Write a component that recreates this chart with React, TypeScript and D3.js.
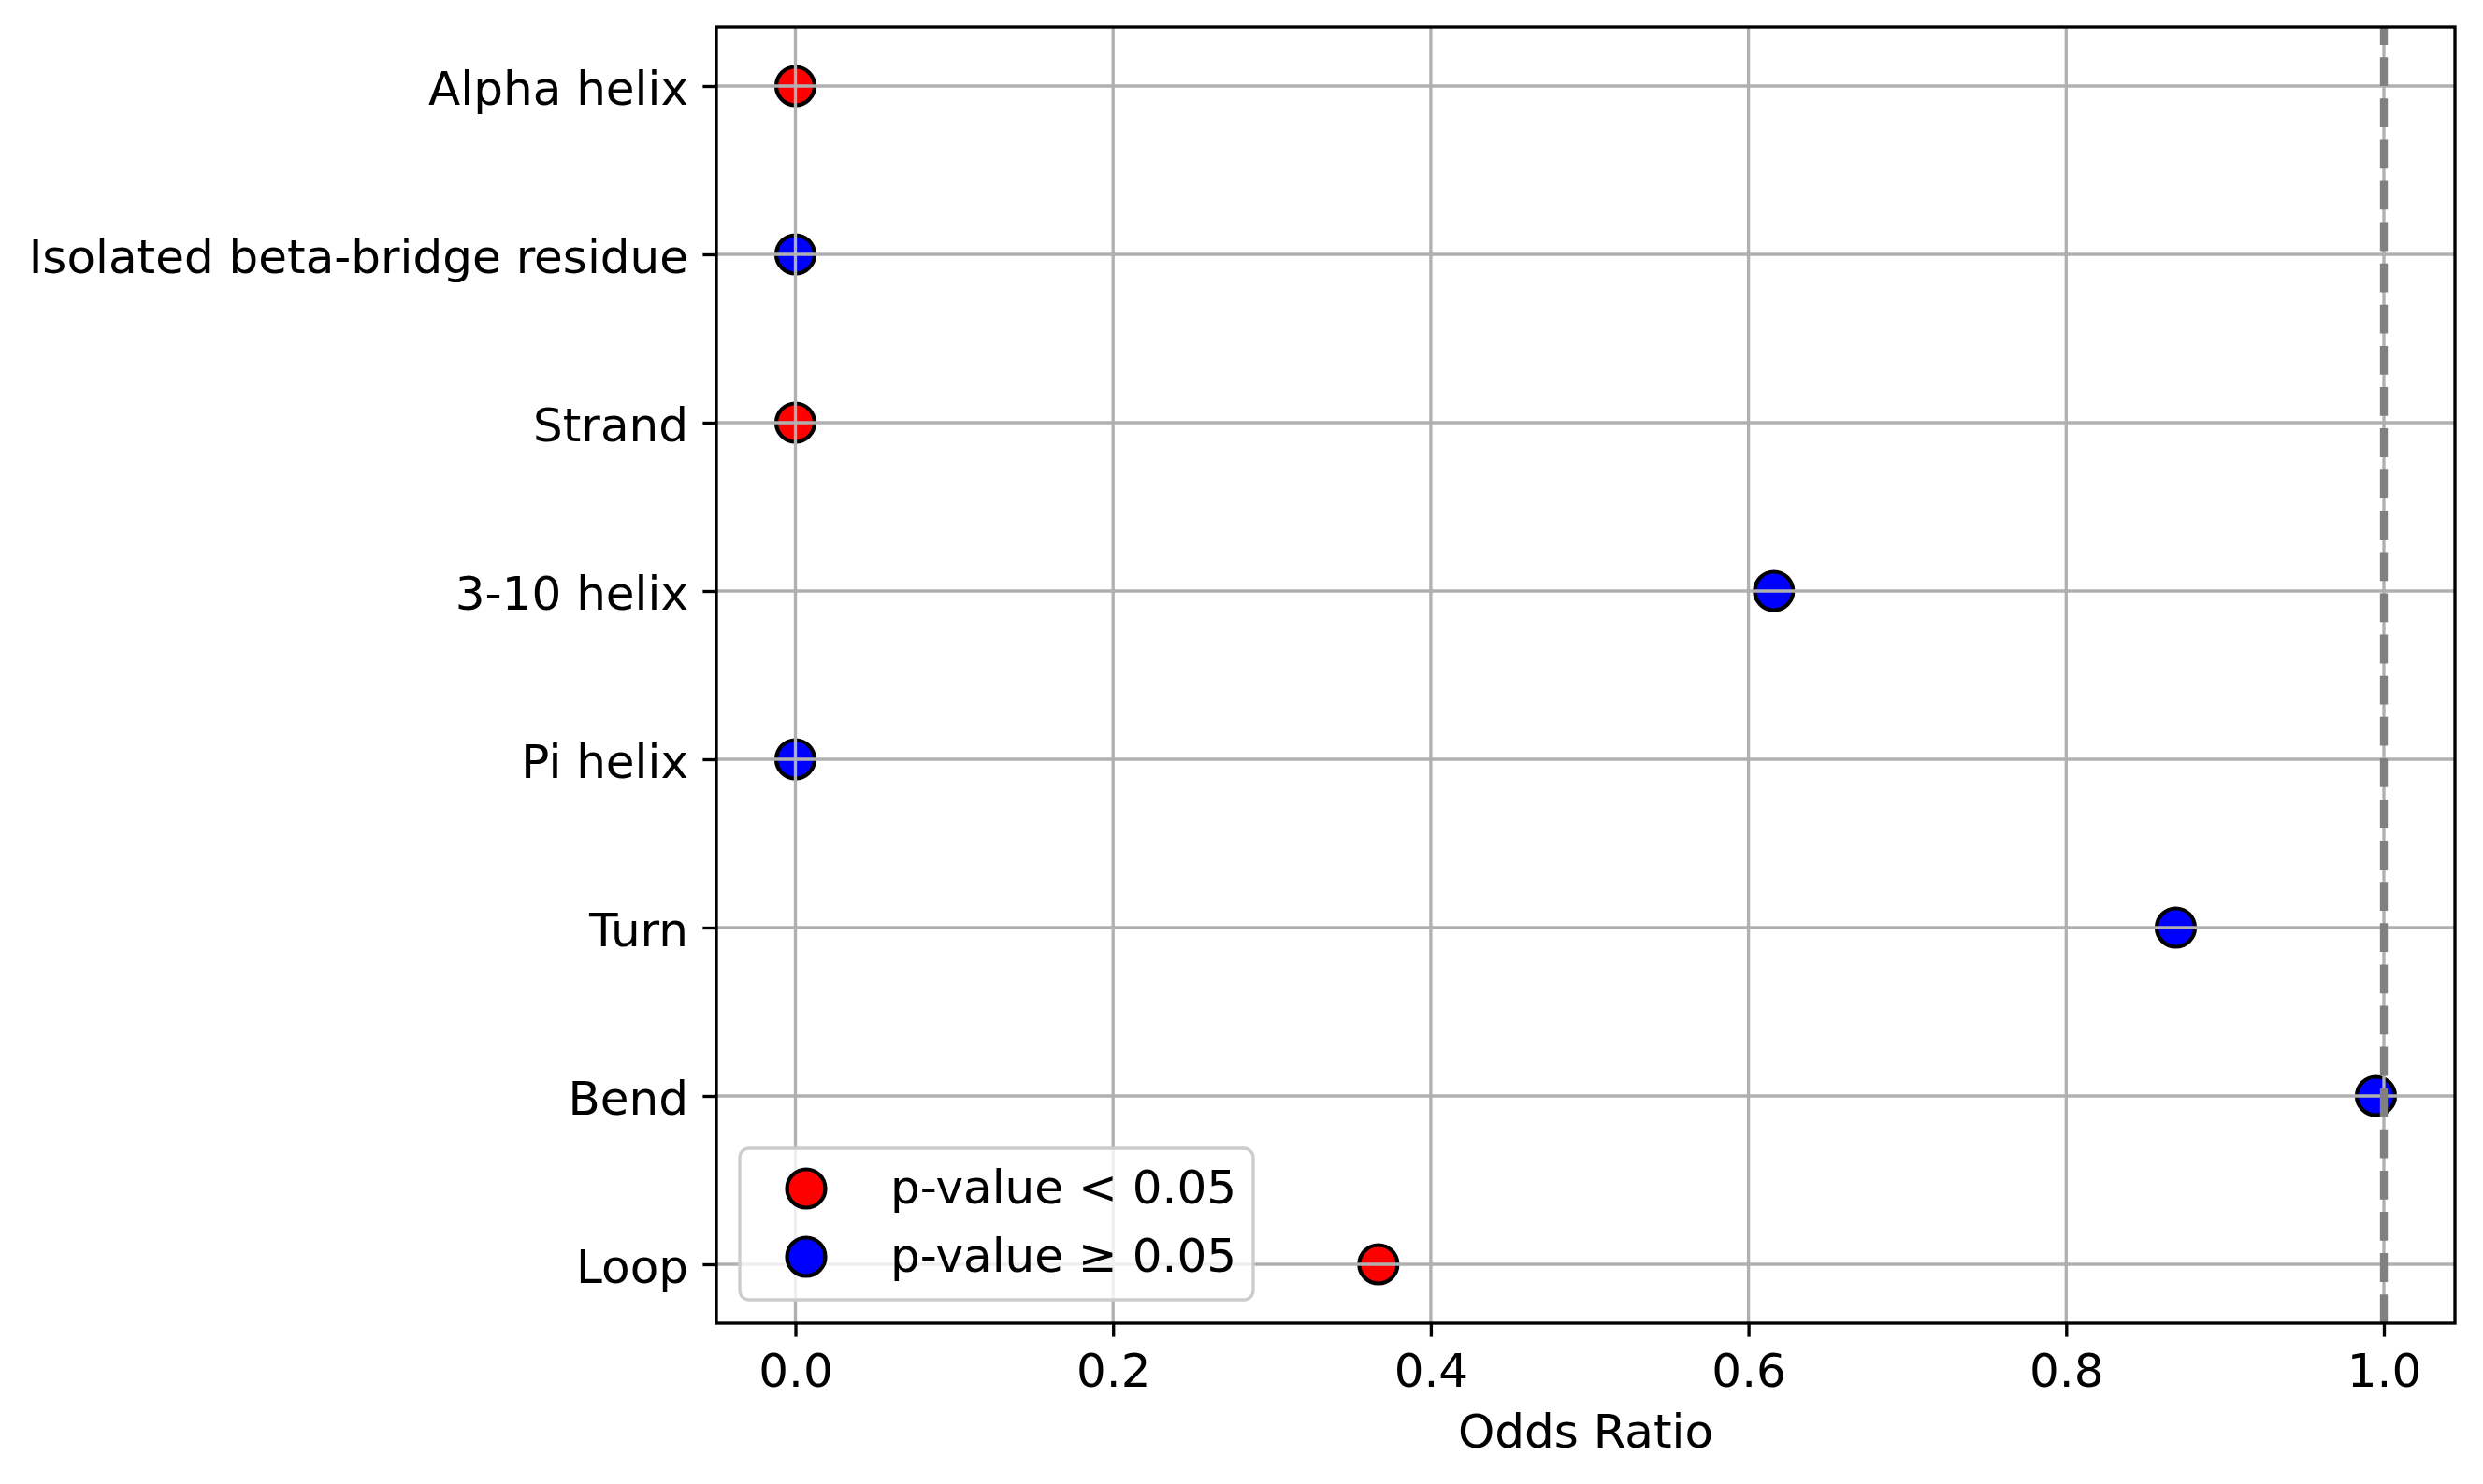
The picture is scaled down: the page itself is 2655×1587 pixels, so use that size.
import { useEffect, useRef } from 'react';
import * as d3 from 'd3';

const categories = [
  'Alpha helix',
  'Isolated beta-bridge residue',
  'Strand',
  '3-10 helix',
  'Pi helix',
  'Turn',
  'Bend',
  'Loop',
];
const oddsRatios = [0, 0, 0, 0.616, 0, 0.869, 0.995, 0.367];
const significant = [true, false, true, false, false, false, false, true];
const xTicks = [0, 0.2, 0.4, 0.6, 0.8, 1.0];
const legendLabels = ['p-value < 0.05', 'p-value \u2265 0.05'];
const legendColors = ['red', 'blue'];
const referenceLine = 1.0;

const W = 2655;
const H = 1587;
const FONT = '"DejaVu Sans", sans-serif';
const FS = 50;

export default function App() {
  const svgRef = useRef<SVGSVGElement>(null);

  useEffect(() => {
    document.body.style.margin = '0';
    if (!svgRef.current) return;
    const svg = d3.select(svgRef.current);
    svg.selectAll('*').remove();

    const margin = { top: 29, right: 30, bottom: 172, left: 766 };
    const x0 = margin.left;
    const x1 = W - margin.right;
    const y0 = margin.top;
    const y1 = H - margin.bottom;

    const lo = d3.min(oddsRatios) as number;
    const hi = d3.max(oddsRatios) as number;
    const pad = (hi - lo) * 0.05;
    const x = d3.scaleLinear().domain([lo - pad, hi + pad]).range([x0, x1]);
    const y = d3.scalePoint<string>().domain(categories).range([y0, y1]).padding(0.35);

    svg.append('rect').attr('width', W).attr('height', H).attr('fill', 'white');

    // points (drawn under the grid, as matplotlib does)
    svg.append('g')
      .selectAll('circle')
      .data(categories)
      .join('circle')
      .attr('cx', (_, i) => x(oddsRatios[i]))
      .attr('cy', (d) => y(d) as number)
      .attr('r', 20.5)
      .attr('fill', (_, i) => (significant[i] ? 'red' : 'blue'))
      .attr('stroke', 'black')
      .attr('stroke-width', 4.2);

    // grid
    const grid = svg.append('g').attr('stroke', '#b0b0b0').attr('stroke-width', 3.33);
    grid.selectAll('line.v')
      .data(xTicks)
      .join('line')
      .attr('class', 'v')
      .attr('x1', (d) => x(d)).attr('x2', (d) => x(d))
      .attr('y1', y0).attr('y2', y1);
    grid.selectAll('line.h')
      .data(categories)
      .join('line')
      .attr('class', 'h')
      .attr('x1', x0).attr('x2', x1)
      .attr('y1', (d) => y(d) as number).attr('y2', (d) => y(d) as number);

    // reference line at OR = 1
    svg.append('line')
      .attr('x1', x(referenceLine)).attr('x2', x(referenceLine))
      .attr('y1', y1).attr('y2', y0)
      .attr('stroke', 'gray')
      .attr('stroke-width', 8.33)
      .attr('stroke-dasharray', '30.8 13.3');

    // axes
    const xAxis = svg.append('g')
      .attr('transform', `translate(0,${y1})`)
      .call(d3.axisBottom(x).tickValues(xTicks).tickFormat(d3.format('.1f')).tickSize(14.6));
    xAxis.select('.domain').remove();
    xAxis.selectAll('line').attr('stroke', 'black').attr('stroke-width', 3.33);
    xAxis.selectAll('text')
      .attr('y', 68).attr('dy', null)
      .attr('fill', 'black')
      .style('font-family', FONT).style('font-size', `${FS}px`);

    const yAxis = svg.append('g')
      .attr('transform', `translate(${x0},0)`)
      .call(d3.axisLeft(y).tickSize(14.6));
    yAxis.select('.domain').remove();
    yAxis.selectAll('line').attr('stroke', 'black').attr('stroke-width', 3.33);
    yAxis.selectAll('text')
      .attr('x', -30).attr('y', 19).attr('dy', null)
      .attr('fill', 'black')
      .style('font-family', FONT).style('font-size', `${FS}px`);

    svg.append('rect')
      .attr('x', x0).attr('y', y0)
      .attr('width', x1 - x0).attr('height', y1 - y0)
      .attr('fill', 'none')
      .attr('stroke', 'black')
      .attr('stroke-width', 3.33);

    svg.append('text')
      .attr('x', (x0 + x1) / 2)
      .attr('y', 1548)
      .attr('text-anchor', 'middle')
      .style('font-family', FONT).style('font-size', `${FS}px`)
      .text('Odds Ratio');

    // legend
    const lw = 549;
    const lh = 162;
    const lx = x0 + 25;
    const ly = y1 - 25 - lh;
    const legend = svg.append('g').attr('transform', `translate(${lx},${ly})`);
    legend.append('rect')
      .attr('width', lw).attr('height', lh)
      .attr('rx', 10).attr('ry', 10)
      .attr('fill', 'white').attr('fill-opacity', 0.8)
      .attr('stroke', '#cccccc').attr('stroke-width', 3.33);
    const rows = legend.selectAll('g.row')
      .data(legendLabels)
      .join('g')
      .attr('class', 'row')
      .attr('transform', (_, i) => `translate(0,${43 + i * 73})`);
    rows.append('circle')
      .attr('cx', 71).attr('cy', 0).attr('r', 20.5)
      .attr('fill', (_, i) => legendColors[i])
      .attr('stroke', 'black').attr('stroke-width', 4.2);
    rows.append('text')
      .attr('x', 161).attr('y', 16)
      .style('font-family', FONT).style('font-size', `${FS}px`)
      .text((d) => d);
  }, []);

  return <svg ref={svgRef} width={W} height={H} style={{ display: 'block' }} />;
}
